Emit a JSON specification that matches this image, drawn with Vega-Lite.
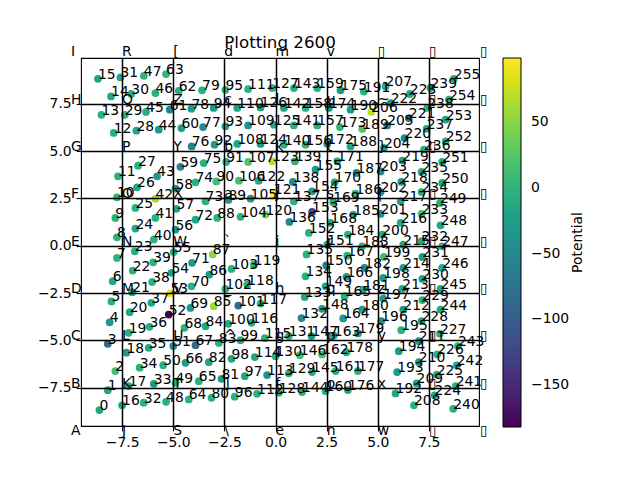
{
  "$schema": "https://vega.github.io/schema/vega-lite/v6.json",
  "width": 398,
  "height": 368,
  "autosize": {"type": "none"},
  "padding": {"left": 81, "top": 58, "right": 161, "bottom": 54},
  "background": "white",
  "config": {
    "font": "DejaVu Sans",
    "view": {"stroke": "black", "strokeWidth": 1.1},
    "axis": {
      "domain": false,
      "tickColor": "black",
      "tickSize": 4.9,
      "tickWidth": 1.1,
      "labelColor": "black",
      "labelFont": "DejaVu Sans",
      "labelFontSize": 13.9,
      "labelPadding": 4.9,
      "gridColor": "black",
      "gridWidth": 1.5,
      "gridOpacity": 1
    }
  },
  "title": {
    "text": "Plotting 2600",
    "font": "DejaVu Sans",
    "fontSize": 16.7,
    "fontWeight": "normal",
    "color": "black",
    "anchor": "middle",
    "frame": "group",
    "offset": 8,
    "dy": 14
  },
  "datasets": {
    "pts": [
      {"n": 0, "x": -8.61, "y": -8.68, "v": -14},
      {"n": 1, "x": -8.20, "y": -7.63, "v": -14},
      {"n": 2, "x": -7.83, "y": -6.62, "v": 15},
      {"n": 3, "x": -8.20, "y": -5.18, "v": -90},
      {"n": 4, "x": -8.11, "y": -4.04, "v": -30},
      {"n": 5, "x": -8.02, "y": -2.94, "v": -3},
      {"n": 6, "x": -7.96, "y": -1.87, "v": -14},
      {"n": 7, "x": -7.75, "y": -0.64, "v": -3},
      {"n": 8, "x": -7.75, "y": 0.45, "v": -3},
      {"n": 9, "x": -7.83, "y": 1.47, "v": -3},
      {"n": 10, "x": -7.75, "y": 2.56, "v": -3},
      {"n": 11, "x": -7.70, "y": 3.67, "v": -3},
      {"n": 12, "x": -7.91, "y": 5.96, "v": -3},
      {"n": 13, "x": -8.51, "y": 6.92, "v": -3},
      {"n": 14, "x": -8.04, "y": 7.89, "v": -14},
      {"n": 15, "x": -8.68, "y": 8.82, "v": -14},
      {"n": 16, "x": -7.50, "y": -8.43, "v": -14},
      {"n": 17, "x": -7.18, "y": -7.41, "v": -3},
      {"n": 18, "x": -7.29, "y": -5.65, "v": -30},
      {"n": 19, "x": -7.18, "y": -4.60, "v": -3},
      {"n": 20, "x": -7.13, "y": -3.51, "v": -14},
      {"n": 21, "x": -7.01, "y": -2.45, "v": -14},
      {"n": 22, "x": -6.98, "y": -1.31, "v": -3},
      {"n": 23, "x": -6.88, "y": -0.29, "v": -3},
      {"n": 24, "x": -6.85, "y": 0.91, "v": -14},
      {"n": 25, "x": -6.85, "y": 2.00, "v": -3},
      {"n": 26, "x": -6.77, "y": 3.09, "v": -14},
      {"n": 27, "x": -6.72, "y": 4.23, "v": -3},
      {"n": 28, "x": -6.80, "y": 6.08, "v": -14},
      {"n": 29, "x": -7.37, "y": 6.92, "v": -3},
      {"n": 30, "x": -7.05, "y": 8.02, "v": -3},
      {"n": 31, "x": -7.58, "y": 8.89, "v": -14},
      {"n": 32, "x": -6.44, "y": -8.29, "v": -3},
      {"n": 33, "x": -5.95, "y": -7.29, "v": -30},
      {"n": 34, "x": -6.64, "y": -6.44, "v": -3},
      {"n": 35, "x": -6.20, "y": -5.39, "v": -14},
      {"n": 36, "x": -6.16, "y": -4.28, "v": -3},
      {"n": 37, "x": -6.07, "y": -3.01, "v": -14},
      {"n": 38, "x": -6.03, "y": -1.91, "v": -3},
      {"n": 39, "x": -5.98, "y": -0.87, "v": -3},
      {"n": 40, "x": -5.95, "y": 0.33, "v": -3},
      {"n": 41, "x": -5.87, "y": 1.47, "v": -3},
      {"n": 42, "x": -5.87, "y": 2.49, "v": 60},
      {"n": 43, "x": -5.79, "y": 3.67, "v": -30},
      {"n": 44, "x": -5.71, "y": 6.13, "v": -30},
      {"n": 45, "x": -6.33, "y": 7.07, "v": -8},
      {"n": 46, "x": -5.87, "y": 8.07, "v": -3},
      {"n": 47, "x": -6.44, "y": 8.98, "v": 2},
      {"n": 48, "x": -5.35, "y": -8.24, "v": -3},
      {"n": 49, "x": -4.89, "y": -7.24, "v": -3},
      {"n": 50, "x": -5.49, "y": -6.31, "v": -3},
      {"n": 51, "x": -5.00, "y": -5.30, "v": -50},
      {"n": 52, "x": -5.22, "y": -3.63, "v": -182},
      {"n": 53, "x": -5.14, "y": -2.52, "v": 88},
      {"n": 54, "x": -5.09, "y": -1.43, "v": -14},
      {"n": 55, "x": -4.98, "y": -0.34, "v": -3},
      {"n": 56, "x": -4.89, "y": 0.85, "v": -30},
      {"n": 57, "x": -4.84, "y": 1.95, "v": -14},
      {"n": 58, "x": -4.89, "y": 3.02, "v": -40},
      {"n": 59, "x": -4.65, "y": 4.17, "v": -60},
      {"n": 60, "x": -4.60, "y": 6.22, "v": -30},
      {"n": 61, "x": -5.17, "y": 7.19, "v": -55},
      {"n": 62, "x": -4.73, "y": 8.19, "v": -3},
      {"n": 63, "x": -5.35, "y": 9.07, "v": 2},
      {"n": 64, "x": -4.24, "y": -8.12, "v": -3},
      {"n": 65, "x": -3.75, "y": -7.15, "v": -3},
      {"n": 66, "x": -4.40, "y": -6.18, "v": -30},
      {"n": 67, "x": -3.91, "y": -5.25, "v": -85},
      {"n": 68, "x": -4.45, "y": -4.33, "v": -3},
      {"n": 69, "x": -4.16, "y": -3.28, "v": -30},
      {"n": 70, "x": -4.11, "y": -2.14, "v": -3},
      {"n": 71, "x": -4.08, "y": -0.90, "v": -30},
      {"n": 72, "x": -3.91, "y": 1.38, "v": -14},
      {"n": 73, "x": -3.42, "y": 2.35, "v": -3},
      {"n": 74, "x": -3.91, "y": 3.35, "v": -3},
      {"n": 75, "x": -3.51, "y": 4.37, "v": -3},
      {"n": 76, "x": -4.10, "y": 5.25, "v": -55},
      {"n": 77, "x": -3.54, "y": 6.27, "v": -50},
      {"n": 78, "x": -4.11, "y": 7.24, "v": -30},
      {"n": 79, "x": -3.59, "y": 8.21, "v": -3},
      {"n": 80, "x": -3.13, "y": -8.03, "v": -3},
      {"n": 81, "x": -2.64, "y": -7.03, "v": -30},
      {"n": 82, "x": -3.26, "y": -6.15, "v": -14},
      {"n": 83, "x": -2.77, "y": -5.13, "v": -3},
      {"n": 84, "x": -3.42, "y": -4.25, "v": -14},
      {"n": 85, "x": -3.02, "y": -3.19, "v": 57},
      {"n": 86, "x": -3.23, "y": -1.52, "v": -30},
      {"n": 87, "x": -3.07, "y": -0.46, "v": 50},
      {"n": 88, "x": -2.85, "y": 1.47, "v": -3},
      {"n": 89, "x": -2.30, "y": 2.42, "v": -30},
      {"n": 90, "x": -2.89, "y": 3.40, "v": 12},
      {"n": 91, "x": -2.41, "y": 4.43, "v": -3},
      {"n": 92, "x": -2.98, "y": 5.34, "v": -30},
      {"n": 93, "x": -2.45, "y": 6.31, "v": -30},
      {"n": 94, "x": -3.02, "y": 7.28, "v": -30},
      {"n": 95, "x": -2.45, "y": 8.24, "v": -3},
      {"n": 96, "x": -1.99, "y": -7.97, "v": -3},
      {"n": 97, "x": -1.50, "y": -6.89, "v": -14},
      {"n": 98, "x": -2.15, "y": -5.97, "v": -14},
      {"n": 99, "x": -1.71, "y": -4.99, "v": -3},
      {"n": 100, "x": -2.31, "y": -4.12, "v": -14},
      {"n": 101, "x": -1.82, "y": -3.16, "v": -85},
      {"n": 102, "x": -2.45, "y": -2.28, "v": -3},
      {"n": 103, "x": -2.15, "y": -1.22, "v": -3},
      {"n": 104, "x": -1.71, "y": 1.53, "v": -3},
      {"n": 105, "x": -1.22, "y": 2.49, "v": -30},
      {"n": 106, "x": -1.79, "y": 3.44, "v": 12},
      {"n": 107, "x": -1.34, "y": 4.43, "v": 22},
      {"n": 108, "x": -1.87, "y": 5.38, "v": -14},
      {"n": 109, "x": -1.34, "y": 6.36, "v": -30},
      {"n": 110, "x": -1.87, "y": 7.28, "v": -14},
      {"n": 111, "x": -1.34, "y": 8.28, "v": -3},
      {"n": 112, "x": -0.90, "y": -7.82, "v": -3},
      {"n": 113, "x": -0.41, "y": -6.83, "v": -40},
      {"n": 114, "x": -1.01, "y": -5.88, "v": -14},
      {"n": 115, "x": -0.52, "y": -4.88, "v": -3},
      {"n": 116, "x": -1.17, "y": -4.07, "v": -3},
      {"n": 117, "x": -0.73, "y": -3.05, "v": -3},
      {"n": 118, "x": -1.38, "y": -2.05, "v": -3},
      {"n": 119, "x": -1.06, "y": -0.99, "v": -3},
      {"n": 120, "x": -0.49, "y": 1.65, "v": 40},
      {"n": 121, "x": -0.08, "y": 2.74, "v": 99},
      {"n": 122, "x": -0.82, "y": 3.44, "v": -14},
      {"n": 123, "x": -0.16, "y": 4.46, "v": 70},
      {"n": 124, "x": -0.73, "y": 5.38, "v": -30},
      {"n": 125, "x": -0.08, "y": 6.40, "v": -14},
      {"n": 126, "x": -0.73, "y": 7.31, "v": -30},
      {"n": 127, "x": -0.16, "y": 8.33, "v": -3},
      {"n": 128, "x": 0.16, "y": -7.76, "v": -3},
      {"n": 129, "x": 0.65, "y": -6.74, "v": -3},
      {"n": 130, "x": 0.00, "y": -5.83, "v": -3},
      {"n": 131, "x": 0.65, "y": -4.77, "v": -3},
      {"n": 132, "x": 1.27, "y": -3.82, "v": -50},
      {"n": 133, "x": 1.43, "y": -2.70, "v": -14},
      {"n": 134, "x": 1.47, "y": -1.61, "v": -3},
      {"n": 135, "x": 1.52, "y": -0.46, "v": -3},
      {"n": 136, "x": 0.68, "y": 1.26, "v": -50},
      {"n": 137, "x": 0.90, "y": 2.35, "v": -3},
      {"n": 138, "x": 0.85, "y": 3.37, "v": -50},
      {"n": 139, "x": 0.95, "y": 4.46, "v": -3},
      {"n": 140, "x": 0.41, "y": 5.34, "v": -3},
      {"n": 141, "x": 0.90, "y": 6.36, "v": -3},
      {"n": 142, "x": 0.41, "y": 7.28, "v": -14},
      {"n": 143, "x": 0.90, "y": 8.33, "v": -3},
      {"n": 144, "x": 1.30, "y": -7.73, "v": -3},
      {"n": 145, "x": 1.79, "y": -6.67, "v": -3},
      {"n": 146, "x": 1.19, "y": -5.78, "v": 12},
      {"n": 147, "x": 1.76, "y": -4.77, "v": -30},
      {"n": 148, "x": 2.28, "y": -3.33, "v": -30},
      {"n": 149, "x": 2.45, "y": -2.14, "v": -14},
      {"n": 150, "x": 2.48, "y": -1.04, "v": -55},
      {"n": 151, "x": 2.53, "y": 0.06, "v": -14},
      {"n": 152, "x": 1.63, "y": 0.68, "v": -3},
      {"n": 153, "x": 1.79, "y": 1.79, "v": -120},
      {"n": 154, "x": 1.79, "y": 2.88, "v": -30},
      {"n": 155, "x": 1.96, "y": 4.02, "v": -30},
      {"n": 156, "x": 1.47, "y": 5.34, "v": -3},
      {"n": 157, "x": 2.04, "y": 6.36, "v": -3},
      {"n": 158, "x": 1.47, "y": 7.28, "v": -3},
      {"n": 159, "x": 2.04, "y": 8.33, "v": -3},
      {"n": 160, "x": 2.45, "y": -7.68, "v": -3},
      {"n": 161, "x": 2.94, "y": -6.62, "v": -3},
      {"n": 162, "x": 2.28, "y": -5.74, "v": 12},
      {"n": 163, "x": 2.85, "y": -4.74, "v": -30},
      {"n": 164, "x": 3.31, "y": -3.84, "v": -30},
      {"n": 165, "x": 3.38, "y": -2.66, "v": -3},
      {"n": 166, "x": 3.47, "y": -1.64, "v": -30},
      {"n": 167, "x": 3.51, "y": -0.52, "v": -3},
      {"n": 168, "x": 2.69, "y": 1.21, "v": -14},
      {"n": 169, "x": 2.82, "y": 2.30, "v": -3},
      {"n": 170, "x": 2.89, "y": 3.35, "v": -14},
      {"n": 171, "x": 3.02, "y": 4.46, "v": -14},
      {"n": 172, "x": 2.53, "y": 5.39, "v": -30},
      {"n": 173, "x": 3.15, "y": 6.27, "v": 2},
      {"n": 174, "x": 2.61, "y": 7.28, "v": -30},
      {"n": 175, "x": 3.18, "y": 8.21, "v": -30},
      {"n": 176, "x": 3.54, "y": -7.62, "v": -14},
      {"n": 177, "x": 4.03, "y": -6.62, "v": -3},
      {"n": 178, "x": 3.47, "y": -5.62, "v": -14},
      {"n": 179, "x": 4.03, "y": -4.63, "v": -30},
      {"n": 180, "x": 4.24, "y": -3.37, "v": -30},
      {"n": 181, "x": 4.29, "y": -2.31, "v": -14},
      {"n": 182, "x": 4.35, "y": -1.17, "v": -55},
      {"n": 183, "x": 4.24, "y": -0.03, "v": -3},
      {"n": 184, "x": 3.54, "y": 0.59, "v": -3},
      {"n": 185, "x": 3.80, "y": 1.65, "v": -14},
      {"n": 186, "x": 3.91, "y": 2.75, "v": -3},
      {"n": 187, "x": 3.96, "y": 3.85, "v": -55},
      {"n": 188, "x": 3.67, "y": 5.25, "v": -14},
      {"n": 189, "x": 4.24, "y": 6.17, "v": 22},
      {"n": 190, "x": 3.67, "y": 7.19, "v": -30},
      {"n": 191, "x": 4.32, "y": 8.15, "v": -3},
      {"n": 192, "x": 5.87, "y": -7.80, "v": -14},
      {"n": 193, "x": 5.95, "y": -6.67, "v": -30},
      {"n": 194, "x": 6.03, "y": -5.57, "v": -30},
      {"n": 195, "x": 6.15, "y": -4.46, "v": -3},
      {"n": 196, "x": 5.17, "y": -3.98, "v": -45},
      {"n": 197, "x": 5.27, "y": -2.79, "v": -30},
      {"n": 198, "x": 5.27, "y": -1.70, "v": -30},
      {"n": 199, "x": 5.30, "y": -0.59, "v": 12},
      {"n": 200, "x": 5.22, "y": 0.59, "v": -3},
      {"n": 201, "x": 5.14, "y": 1.68, "v": -45},
      {"n": 202, "x": 5.14, "y": 2.84, "v": -45},
      {"n": 203, "x": 5.14, "y": 3.93, "v": -55},
      {"n": 204, "x": 5.30, "y": 5.17, "v": -30},
      {"n": 205, "x": 5.46, "y": 6.36, "v": -50},
      {"n": 206, "x": 4.68, "y": 7.07, "v": 72},
      {"n": 207, "x": 5.38, "y": 8.42, "v": -3},
      {"n": 208, "x": 6.77, "y": -8.43, "v": -3},
      {"n": 209, "x": 6.90, "y": -7.27, "v": -14},
      {"n": 210, "x": 7.01, "y": -6.15, "v": -30},
      {"n": 211, "x": 7.01, "y": -5.04, "v": -30},
      {"n": 212, "x": 6.25, "y": -3.37, "v": -30},
      {"n": 213, "x": 6.20, "y": -2.28, "v": -14},
      {"n": 214, "x": 6.25, "y": -1.17, "v": -30},
      {"n": 215, "x": 6.25, "y": 0.06, "v": -14},
      {"n": 216, "x": 6.12, "y": 1.21, "v": -14},
      {"n": 217, "x": 6.12, "y": 2.35, "v": -14},
      {"n": 218, "x": 6.15, "y": 3.37, "v": -30},
      {"n": 219, "x": 6.20, "y": 4.50, "v": -14},
      {"n": 220, "x": 6.31, "y": 5.69, "v": -50},
      {"n": 221, "x": 6.52, "y": 6.75, "v": -85},
      {"n": 222, "x": 5.63, "y": 7.54, "v": -30},
      {"n": 223, "x": 6.57, "y": 8.02, "v": -14},
      {"n": 224, "x": 7.78, "y": -7.90, "v": -14},
      {"n": 225, "x": 7.88, "y": -6.80, "v": -3},
      {"n": 226, "x": 7.91, "y": -5.74, "v": -3},
      {"n": 227, "x": 8.04, "y": -4.65, "v": -3},
      {"n": 228, "x": 7.14, "y": -3.98, "v": -14},
      {"n": 229, "x": 7.18, "y": -2.87, "v": -3},
      {"n": 230, "x": 7.18, "y": -1.75, "v": -14},
      {"n": 231, "x": 7.18, "y": -0.59, "v": -30},
      {"n": 232, "x": 7.14, "y": 0.24, "v": -14},
      {"n": 233, "x": 7.14, "y": 1.68, "v": 12},
      {"n": 234, "x": 7.14, "y": 2.84, "v": -3},
      {"n": 235, "x": 7.14, "y": 3.90, "v": -14},
      {"n": 236, "x": 7.26, "y": 5.08, "v": -3},
      {"n": 237, "x": 7.39, "y": 6.18, "v": -14},
      {"n": 238, "x": 7.42, "y": 7.28, "v": -3},
      {"n": 239, "x": 7.58, "y": 8.33, "v": -14},
      {"n": 240, "x": 8.69, "y": -8.61, "v": -3},
      {"n": 241, "x": 8.81, "y": -7.41, "v": -3},
      {"n": 242, "x": 8.86, "y": -6.32, "v": -14},
      {"n": 243, "x": 8.92, "y": -5.30, "v": -3},
      {"n": 244, "x": 8.07, "y": -3.37, "v": -14},
      {"n": 245, "x": 8.07, "y": -2.28, "v": -14},
      {"n": 246, "x": 8.15, "y": -1.17, "v": -14},
      {"n": 247, "x": 8.15, "y": -0.03, "v": -3},
      {"n": 248, "x": 8.07, "y": 1.08, "v": -14},
      {"n": 249, "x": 8.04, "y": 2.26, "v": -3},
      {"n": 250, "x": 8.15, "y": 3.32, "v": -14},
      {"n": 251, "x": 8.15, "y": 4.43, "v": -14},
      {"n": 252, "x": 8.32, "y": 5.51, "v": -3},
      {"n": 253, "x": 8.32, "y": 6.66, "v": -14},
      {"n": 254, "x": 8.48, "y": 7.72, "v": -3},
      {"n": 255, "x": 8.72, "y": 8.82, "v": -14}
    ],
    "marks": [
      {"gx": -10, "gy": -10, "c": "A"}, {"gx": -10, "gy": -7.5, "c": "B"}, {"gx": -10, "gy": -5, "c": "C"},
      {"gx": -10, "gy": -2.5, "c": "D"}, {"gx": -10, "gy": 0, "c": "E"}, {"gx": -10, "gy": 2.5, "c": "F"},
      {"gx": -10, "gy": 5, "c": "G"}, {"gx": -10, "gy": 7.5, "c": "H"}, {"gx": -10, "gy": 10, "c": "I"},
      {"gx": -7.5, "gy": -10, "c": "J"}, {"gx": -7.5, "gy": -7.5, "c": "K"}, {"gx": -7.5, "gy": -5, "c": "L"},
      {"gx": -7.5, "gy": -2.5, "c": "M"}, {"gx": -7.5, "gy": 0, "c": "N"}, {"gx": -7.5, "gy": 2.5, "c": "O"},
      {"gx": -7.5, "gy": 5, "c": "P"}, {"gx": -7.5, "gy": 7.5, "c": "Q"}, {"gx": -7.5, "gy": 10, "c": "R"},
      {"gx": -5, "gy": -10, "c": "S"}, {"gx": -5, "gy": -7.5, "c": "T"}, {"gx": -5, "gy": -5, "c": "U"},
      {"gx": -5, "gy": -2.5, "c": "V"}, {"gx": -5, "gy": 0, "c": "W"}, {"gx": -5, "gy": 2.5, "c": "X"},
      {"gx": -5, "gy": 5, "c": "Y"}, {"gx": -5, "gy": 7.5, "c": "Z"}, {"gx": -5, "gy": 10, "c": "["},
      {"gx": -2.5, "gy": -10, "c": "\\"}, {"gx": -2.5, "gy": -7.5, "c": "]"}, {"gx": -2.5, "gy": -5, "c": "^"},
      {"gx": -2.5, "gy": -2.5, "c": "_"}, {"gx": -2.5, "gy": 0, "c": "`"}, {"gx": -2.5, "gy": 2.5, "c": "a"},
      {"gx": -2.5, "gy": 5, "c": "b"}, {"gx": -2.5, "gy": 7.5, "c": "c"}, {"gx": -2.5, "gy": 10, "c": "d"},
      {"gx": 0, "gy": -10, "c": "e"}, {"gx": 0, "gy": -7.5, "c": "f"}, {"gx": 0, "gy": -5, "c": "g"},
      {"gx": 0, "gy": -2.5, "c": "h"}, {"gx": 0, "gy": 0, "c": "i"}, {"gx": 0, "gy": 2.5, "c": "j"},
      {"gx": 0, "gy": 5, "c": "k"}, {"gx": 0, "gy": 7.5, "c": "l"}, {"gx": 0, "gy": 10, "c": "m"},
      {"gx": 2.5, "gy": -10, "c": "n"}, {"gx": 2.5, "gy": -7.5, "c": "o"}, {"gx": 2.5, "gy": -5, "c": "p"},
      {"gx": 2.5, "gy": -2.5, "c": "q"}, {"gx": 2.5, "gy": 0, "c": "r"}, {"gx": 2.5, "gy": 2.5, "c": "s"},
      {"gx": 2.5, "gy": 5, "c": "t"}, {"gx": 2.5, "gy": 7.5, "c": "u"}, {"gx": 2.5, "gy": 10, "c": "v"},
      {"gx": 5, "gy": -10, "c": "w"}, {"gx": 5, "gy": -7.5, "c": "x"}, {"gx": 5, "gy": -5, "c": "y"},
      {"gx": 5, "gy": -2.5, "c": "z"}, {"gx": 5, "gy": 0, "c": "{"}, {"gx": 5, "gy": 2.5, "c": "|"},
      {"gx": 5, "gy": 5, "c": "}"}, {"gx": 5, "gy": 7.5, "c": "~"}, {"gx": 5, "gy": 10, "c": "▯"},
      {"gx": 7.5, "gy": -10, "c": "▯"}, {"gx": 7.5, "gy": -7.5, "c": "▯"}, {"gx": 7.5, "gy": -5, "c": "▯"},
      {"gx": 7.5, "gy": -2.5, "c": "▯"}, {"gx": 7.5, "gy": 0, "c": "▯"}, {"gx": 7.5, "gy": 2.5, "c": "▯"},
      {"gx": 7.5, "gy": 5, "c": "▯"}, {"gx": 7.5, "gy": 7.5, "c": "▯"}, {"gx": 7.5, "gy": 10, "c": "▯"},
      {"gx": 10, "gy": -10, "c": "▯"}, {"gx": 10, "gy": -7.5, "c": "▯"}, {"gx": 10, "gy": -5, "c": "▯"},
      {"gx": 10, "gy": -2.5, "c": "▯"}, {"gx": 10, "gy": 0, "c": "▯"}, {"gx": 10, "gy": 2.5, "c": "▯"},
      {"gx": 10, "gy": 5, "c": "▯"}, {"gx": 10, "gy": 7.5, "c": "▯"}, {"gx": 10, "gy": 10, "c": "▯"}
    ]
  },
  "layer": [
    {
      "data": {"name": "pts"},
      "mark": {"type": "circle", "size": 60, "opacity": 1},
      "encoding": {
        "x": {
          "field": "x", "type": "quantitative", "title": null,
          "scale": {"domain": [-9.51, 9.95], "nice": false, "zero": false},
          "axis": {"values": [-7.5, -5, -2.5, 0, 2.5, 5, 7.5], "format": ".1f", "grid": true, "zindex": 1, "title": null}
        },
        "y": {
          "field": "y", "type": "quantitative", "title": null,
          "scale": {"domain": [-9.52, 9.92], "nice": false, "zero": false},
          "axis": {"values": [-7.5, -5, -2.5, 0, 2.5, 5, 7.5], "format": ".1f", "grid": true, "zindex": 1, "title": null}
        },
        "color": {
          "field": "v", "type": "quantitative",
          "scale": {"scheme": "viridis", "domain": [-182, 99]},
          "legend": {
            "orient": "none", "legendX": 422, "legendY": 0,
            "direction": "vertical", "title": null,
            "gradientLength": 369, "gradientThickness": 18,
            "gradientStrokeColor": "black", "gradientStrokeWidth": 1,
            "values": [-150, -100, -50, 0, 50],
            "labelFont": "DejaVu Sans", "labelFontSize": 13.9, "labelColor": "black",
            "labelOffset": 10, "labelOverlap": false
          }
        }
      }
    },
    {
      "data": {"name": "pts"},
      "mark": {"type": "text", "align": "left", "baseline": "alphabetic", "fontSize": 13.9, "font": "DejaVu Sans", "color": "black"},
      "encoding": {
        "x": {"field": "x", "type": "quantitative", "title": null},
        "y": {
          "field": "y", "type": "quantitative", "title": null,
          "scale": {"domain": [-9.52, 9.92], "nice": false, "zero": false},
          "axis": null
        },
        "text": {"field": "n", "type": "nominal"}
      }
    },
    {
      "data": {"name": "marks"},
      "mark": {"type": "text", "align": "left", "baseline": "alphabetic", "fontSize": 13.9, "font": "DejaVu Sans", "color": "black"},
      "encoding": {
        "x": {"field": "gx", "type": "quantitative", "title": null},
        "y": {
          "field": "gy", "type": "quantitative",
          "scale": {"domain": [-9.52, 9.92], "nice": false, "zero": false},
          "axis": {
            "orient": "right", "title": "Potential", "titleAngle": 270,
            "titleBaseline": "top", "titlePadding": 91,
            "titleFont": "DejaVu Sans", "titleFontSize": 13.9, "titleFontWeight": "normal", "titleColor": "black",
            "labels": false, "ticks": false, "grid": false, "domain": false
          }
        },
        "text": {"field": "c", "type": "nominal"}
      }
    }
  ],
  "resolve": {"scale": {"y": "independent"}}
}
